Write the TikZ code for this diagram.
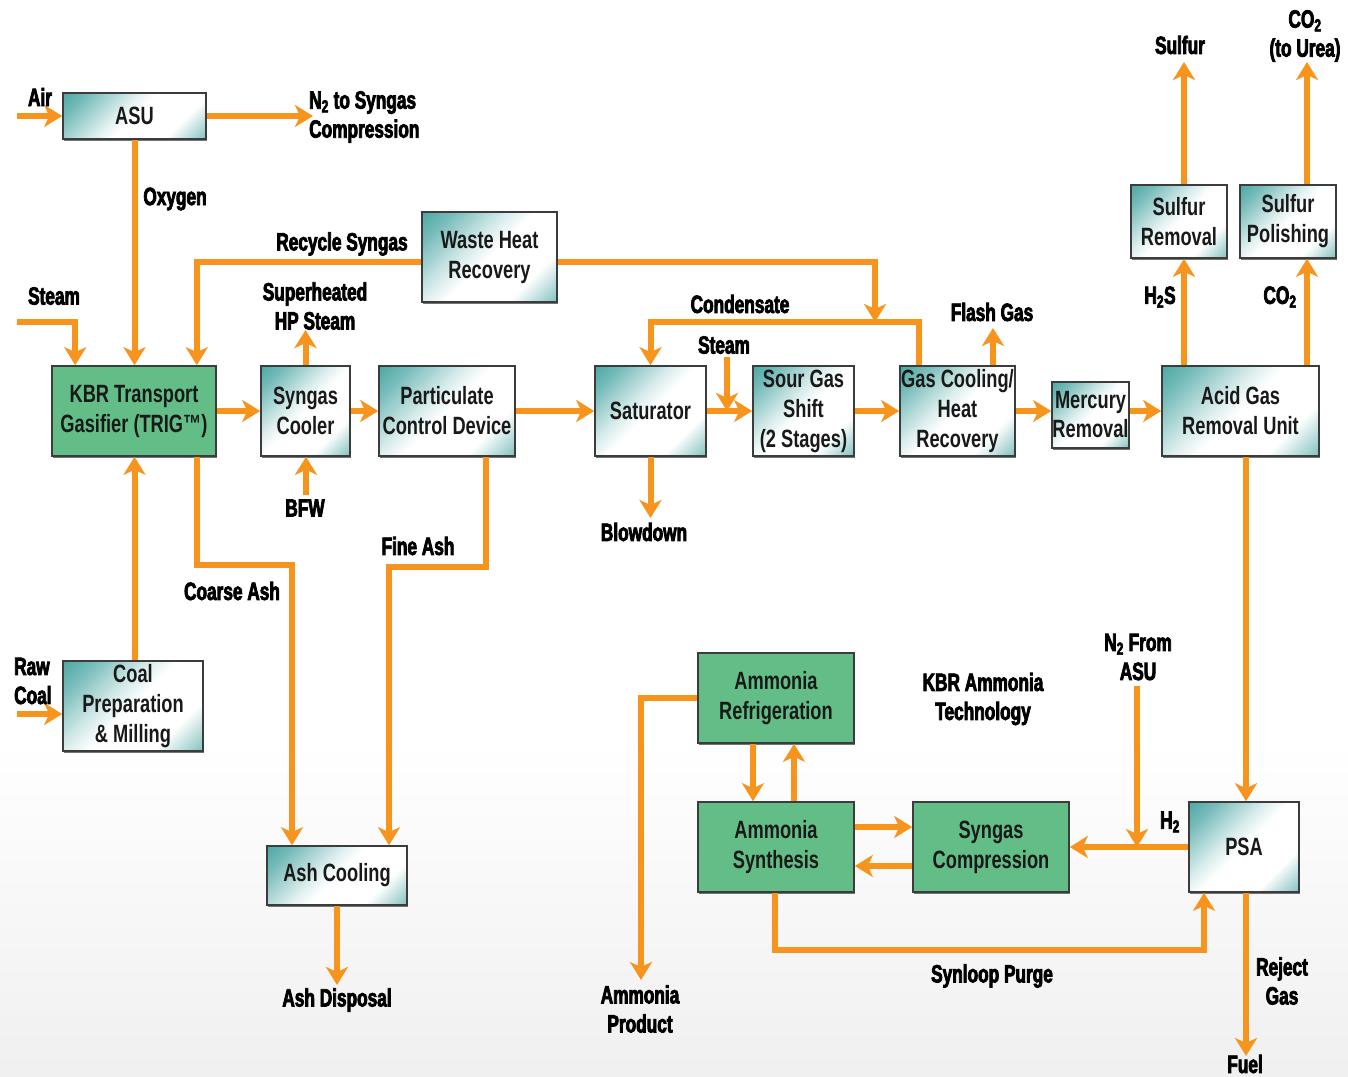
\documentclass[tikz,border=0pt]{standalone}
\usepackage{fontspec}
\setmainfont{Liberation Sans}[FakeStretch=0.73]
\newfontfamily\lblfont{Liberation Sans}[FakeStretch=0.69, BoldFeatures={FakeBold=3}]
\usetikzlibrary{arrows.meta,calc,shadows}
\definecolor{flowc}{RGB}{247,148,29}
\definecolor{tealc}{RGB}{16,138,134}
\definecolor{greenc}{RGB}{98,190,134}
\definecolor{edgec}{RGB}{60,60,60}
\pgfdeclareverticalshading{tealdiag}{100bp}{color(0bp)=(tealc); color(14bp)=(tealc!55); color(30bp)=(white); color(50bp)=(white); color(58bp)=(tealc!15); color(76bp)=(tealc!58); color(100bp)=(tealc)}
\tikzset{
  unit/.style={draw=edgec, line width=1.6pt, inner sep=0pt, align=center,
    font=\bfseries\fontsize{25}{30}\selectfont, text=black!90,
    drop shadow={shadow xshift=0.8pt, shadow yshift=-2pt, fill=black!55, opacity=1}},
  tealbox/.style={unit, shading=tealdiag, shading angle=45},
  greenbox/.style={unit, fill=greenc},
  flow/.style={draw=flowc, line width=6pt, -{Stealth[length=18pt,width=22pt,inset=5pt]}},
  lbl/.style={font=\lblfont\bfseries\fontsize{25}{29}\selectfont, align=center, inner sep=0pt, text=black},
}
\begin{document}
\begin{tikzpicture}[x=1pt,y=-1pt]
\useasboundingbox (0,0) rectangle (1348,1076);
\fill[white] (0,0) rectangle (1348,1076);
\shade[top color=white, bottom color=black!6] (0,740) rectangle (1348,1076);

% units
\node[tealbox, minimum width=143pt, minimum height=46pt] (asu) at (134.5,116) {ASU};
\node[greenbox, minimum width=164pt, minimum height=90pt] (gas) at (134,411) {KBR Transport\\Gasifier (TRIG\texttrademark)};
\node[tealbox, minimum width=89pt, minimum height=90pt] (cool) at (305.5,411) {Syngas\\Cooler};
\node[tealbox, minimum width=136pt, minimum height=90pt] (pcd) at (447,411) {Particulate\\Control Device};
\node[tealbox, minimum width=135pt, minimum height=90pt] (whr) at (489.5,257) {Waste Heat\\Recovery};
\node[tealbox, minimum width=111pt, minimum height=90pt] (sat) at (650.5,411) {Saturator};
\node[tealbox, minimum width=101pt, minimum height=90pt] (shift) at (803.5,411) {Sour Gas\\Shift\\(2 Stages)};
\node[tealbox, minimum width=115pt, minimum height=90pt] (gcool) at (957.5,411) {Gas Cooling/\\Heat\\Recovery};
\node[tealbox, minimum width=77pt, minimum height=66pt, font=\bfseries\fontsize{25}{29}\selectfont] (hg) at (1090.5,415) {Mercury\\Removal};
\node[tealbox, minimum width=157pt, minimum height=90pt] (agr) at (1240.5,411) {Acid Gas\\Removal Unit};
\node[tealbox, minimum width=96pt, minimum height=73pt] (srem) at (1179,221.5) {Sulfur\\Removal};
\node[tealbox, minimum width=96pt, minimum height=73pt] (spol) at (1288,221.5) {Sulfur\\Polishing};
\node[tealbox, minimum width=140pt, minimum height=90pt] (coal) at (133,706) {Coal\\Preparation\\\& Milling};
\node[tealbox, minimum width=140pt, minimum height=59pt] (ash) at (337,875.5) {Ash Cooling};
\node[greenbox, minimum width=156pt, minimum height=90pt] (nref) at (776,698) {Ammonia\\Refrigeration};
\node[greenbox, minimum width=156pt, minimum height=90pt] (nsyn) at (776,847) {Ammonia\\Synthesis};
\node[greenbox, minimum width=156pt, minimum height=90pt] (scomp) at (991,847) {Syngas\\Compression};
\node[tealbox, minimum width=110pt, minimum height=90pt] (psa) at (1244,847) {PSA};

% free ends
\coordinate (airin) at (17,116);
\coordinate (n2out) at (313,116);
\coordinate (stin) at (17,322);
\coordinate (condj) at (875,322);
\coordinate (stin2) at (727,357);
\coordinate (shp) at (306,330);
\coordinate (bfw) at (306,495);
\coordinate (flash) at (993,328);
\coordinate (blow) at (650,518);
\coordinate (sulf) at (1184,62);
\coordinate (co2u) at (1307,62);
\coordinate (rawc) at (17,714);
\coordinate (coarse) at (292,565);
\coordinate (fine) at (389,567);
\coordinate (ashd) at (337,985);
\coordinate (nprod) at (641,980);
\coordinate (n2in) at (1137,686);
\coordinate (purge) at (1204,950);
\coordinate (fuel) at (1246,1056);

% connectors
\draw[flow] (airin) -- (asu.west);
\draw[flow] (asu.east) -- (n2out);
\draw[flow] (asu.south) -- (asu.south |- gas.north);
\draw[flow] (stin) -| ($(gas.north west)+(24,0)$);
\draw[flow] ($(whr.west)+(0,5)$) -| ($(gas.north east)+(-20,0)$);
\draw[flow] ($(whr.east)+(0,5)$) -| (condj);
\draw[flow] ($(gcool.north west)+(20,0)$) |- (condj) -| (sat.north);
\draw[flow] (stin2) -- (stin2 |- sat.east);
\draw[flow] (gas.east) -- (cool.west);
\draw[flow] (cool.east) -- (pcd.west);
\draw[flow] (pcd.east) -- (sat.west);
\draw[flow] (sat.east) -- (shift.west);
\draw[flow] (shift.east) -- (gcool.west);
\draw[flow] (gcool.east) -- (gcool.east -| hg.west);
\draw[flow] (gcool.east -| hg.east) -- (agr.west);
\draw[flow] (cool.north) -- (cool.north |- shp);
\draw[flow] (bfw) -- (bfw |- cool.south);
\draw[flow] (flash |- gcool.north) -- (flash);
\draw[flow] (sat.south) -- (sat.south |- blow);
\draw[flow] (agr.north -| sulf) -- (srem.south -| sulf);
\draw[flow] (agr.north -| co2u) -- (spol.south -| co2u);
\draw[flow] (srem.north -| sulf) -- (sulf);
\draw[flow] (spol.north -| co2u) -- (co2u);
\draw[flow] (agr.south -| fuel) -- (psa.north -| fuel);
\draw[flow] (coal.north -| asu.south) -- (asu.south |- gas.south);
\draw[flow] (rawc) -- (rawc -| coal.west);
\draw[flow] ($(gas.south east)+(-20,0)$) |- (coarse) -- (coarse |- ash.north);
\draw[flow] ($(pcd.south)+(39,0)$) |- (fine) -- (fine |- ash.north);
\draw[flow] (ash.south) -- (ashd);
\draw[flow] (nref.west) -| (nprod);
\draw[flow] ($(nref.south)+(-23,0)$) -- ($(nsyn.north)+(-23,0)$);
\draw[flow] ($(nsyn.north)+(18,0)$) -- ($(nref.south)+(18,0)$);
\draw[flow] ($(nsyn.east)+(0,-20)$) -- ($(scomp.west)+(0,-20)$);
\draw[flow] ($(scomp.west)+(0,19)$) -- ($(nsyn.east)+(0,19)$);
\draw[flow] (psa.west) -- (scomp.east);
\draw[flow] (n2in) -- (n2in |- psa.west);
\draw[flow] ($(nsyn.south)+(-1,0)$) |- (purge) -- (purge |- psa.south);
\draw[flow] (psa.south -| fuel) -- (fuel);

% labels
\node[lbl] (lair) at (40,97) {Air};
\node[lbl, align=left, anchor=west] (ln2) at (309,117) {N\textsubscript{2} to Syngas\\Compression};
\node[lbl] (loxy) at (175,199) {Oxygen};
\node[lbl] (lsteam) at (54,296) {Steam};
\node[lbl] (lrec) at (342,244) {Recycle Syngas};
\node[lbl] (lshp) at (315,306) {Superheated\\HP Steam};
\node[lbl] (lbfw) at (305,508) {BFW};
\node[lbl] (lcond) at (740,304) {Condensate};
\node[lbl] (lsteam2) at (724,345) {Steam};
\node[lbl] (lflash) at (992,312) {Flash Gas};
\node[lbl] (lblow) at (644,532) {Blowdown};
\node[lbl] (lsulf) at (1180,45) {Sulfur};
\node[lbl] (lco2u) at (1305,36) {CO\textsubscript{2}\\(to Urea)};
\node[lbl] (lh2s) at (1160,297) {H\textsubscript{2}S};
\node[lbl] (lco2) at (1280,297) {CO\textsubscript{2}};
\node[lbl] (lfine) at (418,546) {Fine Ash};
\node[lbl] (lcoarse) at (232,591) {Coarse Ash};
\node[lbl, align=left, anchor=west] (lraw) at (14,681) {Raw\\Coal};
\node[lbl] (lashd) at (337,1000) {Ash Disposal};
\node[lbl] (lnprod) at (640,1009) {Ammonia\\Product};
\node[lbl] (lkbr) at (983,699) {KBR Ammonia\\Technology};
\node[lbl] (ln2in) at (1138,657) {N\textsubscript{2} From\\ASU};
\node[lbl] (lh2) at (1170,822) {H\textsubscript{2}};
\node[lbl] (lpurge) at (992,976) {Synloop Purge};
\node[lbl] (lrej) at (1282,981) {Reject\\Gas};
\node[lbl] (lfuel) at (1245,1064) {Fuel};
\end{tikzpicture}
\end{document}
